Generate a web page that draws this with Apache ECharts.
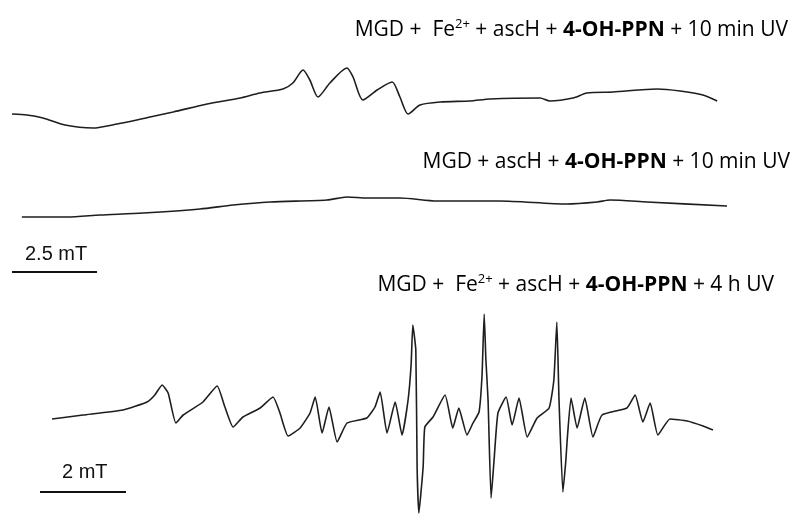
<!DOCTYPE html>
<html>
<head>
<meta charset="utf-8">
<script src="https://cdn.jsdelivr.net/npm/echarts@6/dist/echarts.min.js"></script>
<style>
  html, body { margin: 0; padding: 0; background: #fff; }
  #chart { width: 792px; height: 515px; }
</style>
</head>
<body>
<div id="chart"></div>
<script>
// EPR spectra: field offset (mT) and signal intensity (a.u.)
const fieldA = [0, 0.44, 0.91, 1.56, 2.38, 3.09, 4.06, 4.74, 5.74, 6.71, 7.29, 7.97, 8.26, 8.56, 8.76, 9.00, 9.35, 9.85, 10.03, 10.32, 10.74, 11.18, 11.41, 11.65, 12.00, 12.59, 13.47, 14.06, 15.53, 15.82, 16.50, 16.91, 17.68, 18.97, 19.65, 20.32, 20.74];
const signalA = [16, 15, 12, 5, 2, 6, 13, 18, 26, 32, 37, 41, 47, 60, 50, 33, 47, 62, 53, 30, 40, 48, 33, 16, 25, 28, 29, 31, 32, 29, 32, 37, 38, 41, 39, 35, 29];

const fieldB = [0.29, 1.62, 2.59, 3.85, 5.53, 6.50, 7.59, 9.26, 9.85, 10.44, 11.41, 12.50, 14.35, 16.32, 17.21, 17.59, 18.68, 21.03];
const signalB = [13, 13, 15, 17, 21, 25, 28, 30, 33, 32, 32, 29, 29, 26, 28, 30, 28, 24];

const fieldC = [0.28, 1.00, 1.93, 2.49, 2.67, 2.84, 2.98, 3.16, 3.33, 3.79, 4.12, 4.30, 4.49, 4.72, 5.12, 5.42, 5.58, 5.77, 6.05, 6.28, 6.40, 6.56, 6.72, 6.91, 7.14, 7.60, 7.79, 7.91, 8.07, 8.26, 8.42, 8.56, 8.63, 8.67, 8.74, 8.77, 8.81, 8.91, 8.95, 9.14, 9.42, 9.60, 9.74, 9.93, 10.07, 10.21, 10.28, 10.33, 10.37, 10.42, 10.49, 10.56, 10.65, 10.84, 10.98, 11.14, 11.33, 11.56, 11.84, 11.95, 12.02, 12.07, 12.16, 12.23, 12.26, 12.35, 12.49, 12.67, 12.86, 13.07, 13.65, 13.84, 14.02, 14.19, 14.37, 14.65, 15.05, 15.42, 15.65];
const signalC = [96, 100, 105, 113, 120, 130, 122, 92, 100, 113, 129, 108, 88, 98, 107, 118, 102, 79, 87, 102, 118, 82, 108, 73, 92, 97, 108, 123, 82, 113, 80, 115, 150, 190, 165, 48, 2, 48, 88, 98, 120, 87, 107, 80, 92, 103, 140, 201, 155, 115, 17, 55, 102, 118, 90, 117, 78, 97, 107, 135, 193, 115, 23, 55, 75, 117, 87, 117, 78, 100, 107, 120, 93, 112, 80, 96, 94, 89, 85];

// scale bars: field span (mT)
const scaleBarTop = [0, 2.5];
const scaleBarBottom = [0, 2];

const titleA = '{n|MGD +  Fe}{sup|2+}{n| + ascH + }{b|4-OH-PPN}{n| + 10 min UV}';
const titleB = '{n|MGD + ascH + }{b|4-OH-PPN}{n| + 10 min UV}';
const titleC = '{n|MGD +  Fe}{sup|2+}{n| + ascH + }{b|4-OH-PPN}{n| + 4 h UV}';

const zip = (xs, ys) => xs.map((x, i) => [x, ys[i]]);

const lineColor = '#1e1e1e';
const traceStyle = { color: lineColor, width: 1.6 };

const hiddenAxis = (extra) => Object.assign({
  type: 'value', show: false, splitLine: { show: false }
}, extra);

const titleRich = {
  n: { fontFamily: 'Open Sans', fontSize: 21, color: '#111' },
  b: { fontFamily: 'Open Sans', fontSize: 21, fontWeight: 'bold', color: '#111' },
  sup: { fontFamily: 'Open Sans', fontSize: 13, color: '#111', padding: [0, 0, 11, 0] }
};

const chart = echarts.init(document.getElementById('chart'), null, { renderer: 'canvas' });

chart.setOption({
  animation: false,
  backgroundColor: '#ffffff',
  grid: [
    { left: 12, top: 50, width: 720.8, height: 80 },
    { left: 12, top: 180, width: 720.8, height: 100 },
    { left: 40, top: 305, width: 688, height: 210 }
  ],
  xAxis: [
    hiddenAxis({ gridIndex: 0, min: 0, max: 21.2 }),
    hiddenAxis({ gridIndex: 1, min: 0, max: 21.2 }),
    hiddenAxis({ gridIndex: 2, min: 0, max: 16 })
  ],
  yAxis: [
    hiddenAxis({ gridIndex: 0, min: 0, max: 80 }),
    hiddenAxis({ gridIndex: 1, min: -50, max: 50 }),
    hiddenAxis({ gridIndex: 2, min: 0, max: 210 })
  ],
  series: [
    { type: 'line', xAxisIndex: 0, yAxisIndex: 0, data: zip(fieldA, signalA), showSymbol: false, smooth: 0.25, lineStyle: traceStyle },
    { type: 'line', xAxisIndex: 1, yAxisIndex: 1, data: zip(fieldB, signalB), showSymbol: false, smooth: 0.25, lineStyle: traceStyle },
    { type: 'line', xAxisIndex: 1, yAxisIndex: 1, data: scaleBarTop.map(x => [x, -42]), showSymbol: false, lineStyle: { color: '#111', width: 2 } },
    { type: 'line', xAxisIndex: 2, yAxisIndex: 2, data: zip(fieldC, signalC), showSymbol: false, smooth: 0.15, lineStyle: traceStyle },
    { type: 'line', xAxisIndex: 2, yAxisIndex: 2, data: scaleBarBottom.map(x => [x, 23]), showSymbol: false, lineStyle: { color: '#111', width: 2 } }
  ],
  graphic: [
    { type: 'text', right: 4, top: 18, style: { text: titleA, rich: titleRich } },
    { type: 'text', right: 2, top: 152, style: { text: titleB, rich: titleRich } },
    { type: 'text', right: 18, top: 273, style: { text: titleC, rich: titleRich } },
    { type: 'text', left: 25, top: 244, style: { text: '2.5 mT', fontFamily: 'Liberation Sans', fontSize: 20, fill: '#111' } },
    { type: 'text', left: 62, top: 462, style: { text: '2 mT', fontFamily: 'Liberation Sans', fontSize: 20, fill: '#111' } }
  ]
});
</script>
</body>
</html>
